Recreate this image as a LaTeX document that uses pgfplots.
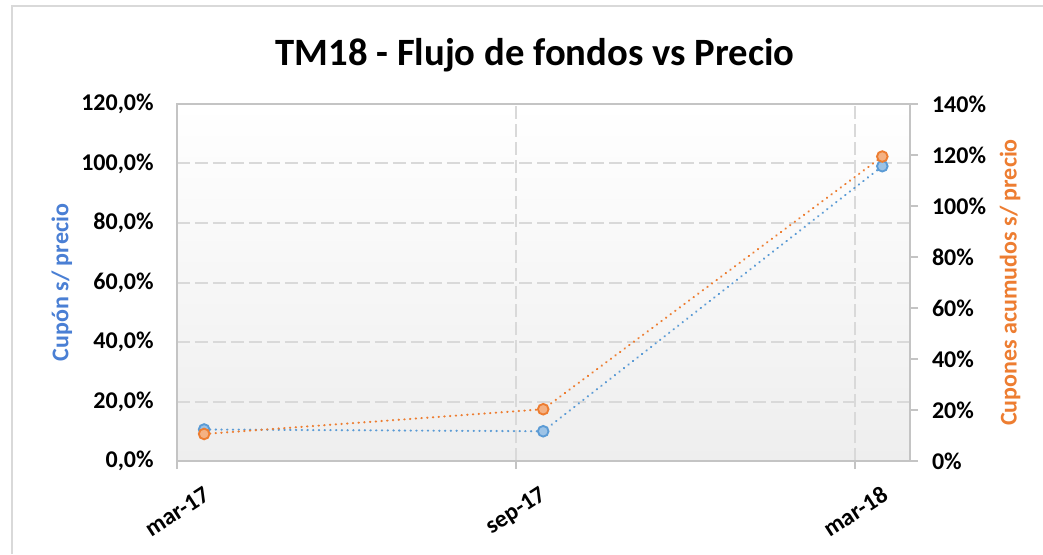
\documentclass[border=0pt]{standalone}
\usepackage{fontspec}
\setmainfont{Carlito}
\usepackage{pgfplots}
\pgfplotsset{compat=1.18}
\definecolor{sblue}{HTML}{5B9BD5}
\definecolor{bluefill}{HTML}{9DC3E6}
\definecolor{sorange}{HTML}{ED7D31}
\definecolor{orangefill}{HTML}{F4B183}
\definecolor{lblue}{HTML}{4A7FD4}
\definecolor{gridgray}{HTML}{D9D9D9}
\definecolor{axisgray}{HTML}{C4C4C4}
\definecolor{framegray}{HTML}{D9D9D9}
\definecolor{bggray}{HTML}{EEEEEE}
\newcommand{\tfont}{\bfseries\fontsize{18}{21}\selectfont}
\begin{document}
\begin{tikzpicture}
\path[use as bounding box] (-132.75pt,-69.75pt) rectangle (649.5pt,345.75pt);
\draw[framegray, line width=2pt] (-123.75pt,-69.75pt) -- (-123.75pt,341.25pt) -- (649.5pt,341.25pt);
\node[anchor=base, font=\bfseries\fontsize{29}{34}\selectfont] at (268.5pt,296.25pt) {TM18 - Flujo de fondos vs Precio};
\begin{axis}[
  at={(0pt,0pt)}, anchor=south west, scale only axis,
  width=549.75pt, height=267.75pt,
  xmin=0, xmax=12.97, ymin=0, ymax=120,
  xtick={0,6,12}, xticklabels={mar-17,sep-17,mar-18},
  ytick={0,20,...,120},
  yticklabel={\pgfmathprintnumber[fixed,fixed zerofill,precision=1,use comma,assume math mode=true]{\tick}\%},
  xmajorgrids, ymajorgrids,
  grid style={gridgray, line width=1.5pt, dash pattern=on 9.75pt off 3.75pt},
  axis line style={axisgray, line width=1.5pt},
  tick align=outside, xtick pos=bottom, ytick pos=left,
  major tick length=6pt,
  ytick style={draw=none},
  xtick style={axisgray, line width=1.5pt},
  axis background/.style={top color=white, bottom color=bggray},
  tick label style={font=\tfont, text=black},
  x tick label style={rotate=33, anchor=center},
  xticklabel shift=32pt,
  yticklabel shift=8pt,
  ylabel={Cupón s/ precio},
  ylabel style={font=\tfont, color=lblue, at={(axis description cs:-0.157,0.5)}, anchor=center},
]
\addplot[sblue, line width=1.6pt, line cap=round, dash pattern=on 0.3pt off 4pt,
  mark=*, mark size=4pt, mark options={solid, fill=bluefill, draw=sblue, line width=1.4pt}]
  coordinates {(0.48,10.6) (6.48,10.0) (12.48,99.1)};
\end{axis}
\begin{axis}[
  at={(0pt,0pt)}, anchor=south west, scale only axis,
  width=549.75pt, height=267.75pt,
  xmin=0, xmax=12.97, ymin=0, ymax=140,
  axis x line=none, axis y line*=right,
  ytick={0,20,...,140},
  yticklabel={\pgfmathprintnumber[fixed,precision=0,assume math mode=true]{\tick}\%},
  axis line style={axisgray, line width=1.5pt},
  tick align=outside, major tick length=6pt,
  ytick style={axisgray, line width=1.5pt},
  tick label style={font=\tfont, text=black},
  yticklabel shift=7pt,
  ylabel={Cupones acumudos s/ precio},
  ylabel style={font=\tfont, color=sorange, at={(axis description cs:1.1364,0.5)}, anchor=center},
]
\addplot[sorange, line width=1.6pt, line cap=round, dash pattern=on 0.3pt off 4pt,
  mark=*, mark size=4pt, mark options={solid, fill=orangefill, draw=sorange, line width=1.4pt}]
  coordinates {(0.48,10.6) (6.48,20.3) (12.48,119.4)};
\end{axis}
\end{tikzpicture}
\end{document}
